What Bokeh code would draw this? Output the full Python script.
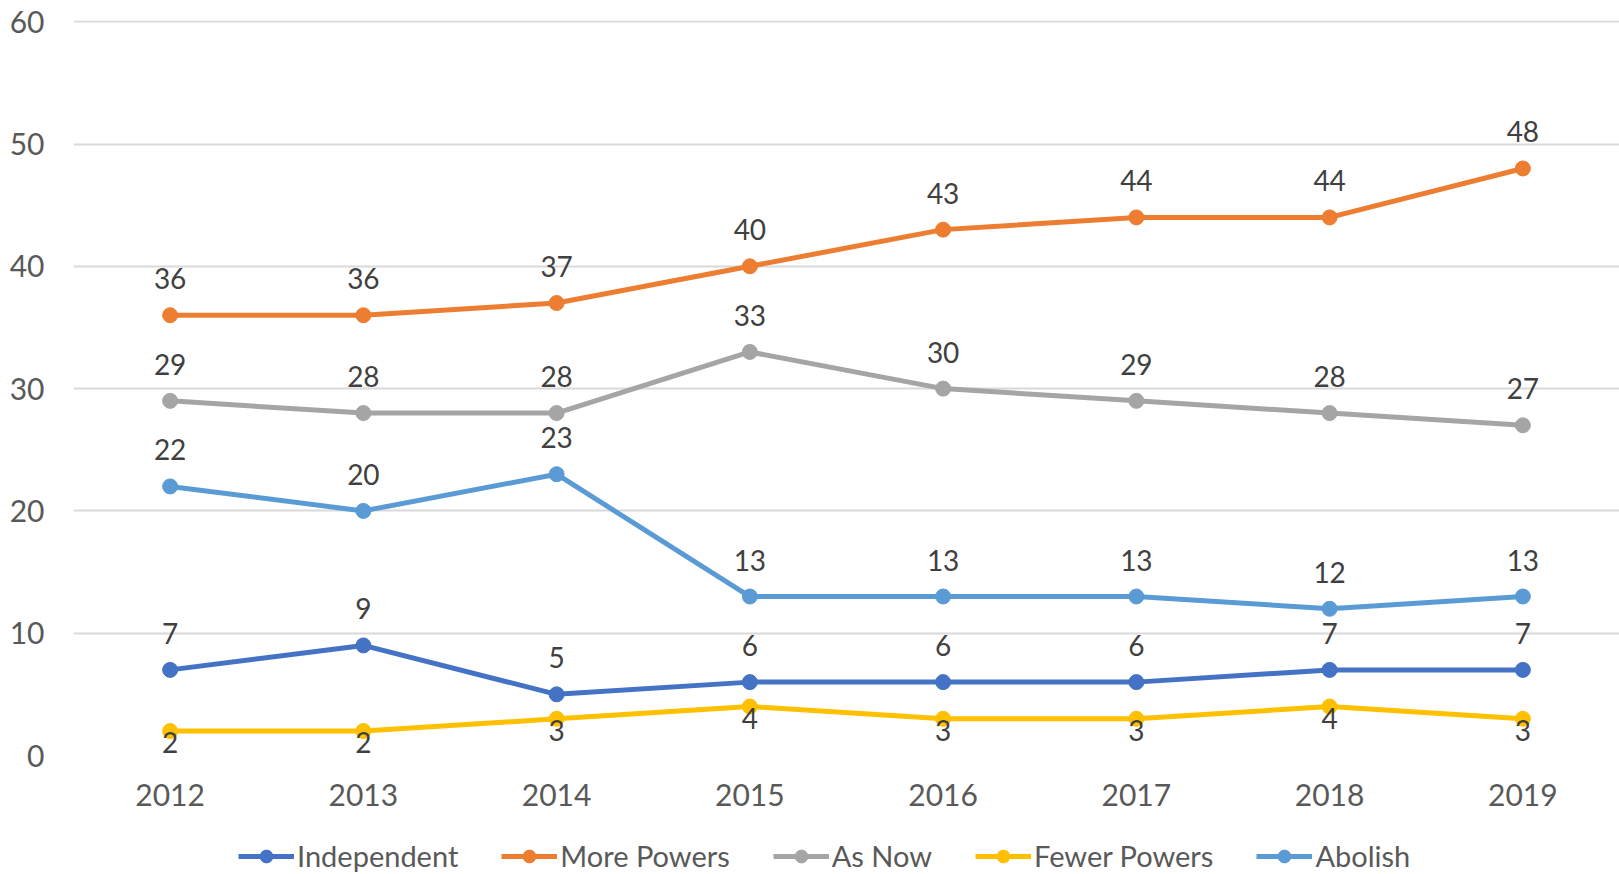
from bokeh.plotting import figure
from bokeh.layouts import column
from bokeh.models import Range1d, FixedTicker, ColumnDataSource, LabelSet, Legend, LegendItem
from bokeh.core.properties import value
from bokeh.embed import file_html
from bokeh.resources import INLINE

years = [2012, 2013, 2014, 2015, 2016, 2017, 2018, 2019]
independent = [7, 9, 5, 6, 6, 6, 7, 7]
more_powers = [36, 36, 37, 40, 43, 44, 44, 48]
as_now = [29, 28, 28, 33, 30, 29, 28, 27]
fewer_powers = [2, 2, 3, 4, 3, 3, 4, 3]
abolish = [22, 20, 23, 13, 13, 13, 12, 13]
y_ticks = [0, 10, 20, 30, 40, 50, 60]

series = [
    ("Independent", independent, "#4472C4", "above"),
    ("More Powers", more_powers, "#ED7D31", "above"),
    ("As Now", as_now, "#A5A5A5", "above"),
    ("Fewer Powers", fewer_powers, "#FFC000", "below"),
    ("Abolish", abolish, "#5B9BD5", "above"),
]

FONT = "Lato"
W = 1619
LEG_H = 44

p = figure(width=W, height=874 - LEG_H, output_backend="svg", toolbar_location=None,
           x_range=Range1d(2011.5, 2019.5), y_range=Range1d(0, 60.1),
           min_border_left=73, min_border_right=0, min_border_top=20,
           min_border_bottom=874 - LEG_H - 755)
p.outline_line_color = None
p.background_fill_color = "white"
p.border_fill_color = "white"

p.xgrid.grid_line_color = None
p.ygrid.grid_line_color = "#D9D9D9"
p.ygrid.grid_line_width = 2
p.ygrid.ticker = FixedTicker(ticks=y_ticks)

p.yaxis.ticker = FixedTicker(ticks=y_ticks)
p.yaxis.axis_line_color = None
p.yaxis.major_tick_line_color = None
p.yaxis.minor_tick_line_color = None
p.yaxis.major_label_text_font = FONT
p.yaxis.major_label_text_font_size = "30px"
p.yaxis.major_label_text_color = "#595959"
p.yaxis.major_label_standoff = 23

p.xaxis.ticker = FixedTicker(ticks=years)
p.xaxis.axis_line_color = None
p.xaxis.major_tick_line_color = None
p.xaxis.minor_tick_line_color = None
p.xaxis.major_label_text_font = FONT
p.xaxis.major_label_text_font_size = "30px"
p.xaxis.major_label_text_color = "#595959"
p.xaxis.major_label_standoff = 22

# legend strip
lg = figure(width=W, height=LEG_H, output_backend="svg", toolbar_location=None,
            x_range=Range1d(0, 1), y_range=Range1d(0, 1),
            min_border_left=0, min_border_right=0, min_border_top=0, min_border_bottom=0)
lg.axis.visible = False
lg.grid.visible = False
lg.outline_line_color = None
lg.border_fill_color = "white"

items = []
for name, vals, color, pos in series:
    src = ColumnDataSource(dict(x=years, y=vals, t=[str(v) for v in vals]))
    p.line("x", "y", source=src, line_color=color, line_width=5)
    p.scatter("x", "y", source=src, size=15, fill_color=color, line_color=color)
    labels = LabelSet(x="x", y="y", text="t", source=src,
                      text_font=value(FONT), text_font_size=value("28px"),
                      text_color=value("#404040"),
                      text_align=value("center"), text_baseline=value("alphabetic"),
                      y_offset=26 if pos == "above" else -22)
    p.add_layout(labels)
    # legend-only renderers, kept outside the strip's visible range
    dummy = ColumnDataSource(dict(x=[-5, -4], y=[-5, -5]))
    l1 = lg.line("x", "y", source=dummy, line_color=color, line_width=5)
    l2 = lg.scatter("x", "y", source=dummy, size=13, fill_color=color, line_color=color)
    items.append(LegendItem(label=name, renderers=[l1, l2]))

legend = Legend(items=items, orientation="horizontal", location=(165, 1))
legend.label_text_font = FONT
legend.label_text_font_size = "29px"
legend.label_text_color = "#595959"
legend.glyph_width = 56
legend.glyph_height = 32
legend.label_standoff = 3
legend.spacing = 43
legend.padding = 0
legend.margin = 0
legend.border_line_color = None
legend.background_fill_alpha = 0
lg.add_layout(legend)

layout = column(p, lg, spacing=0)
open("out.html", "w").write(file_html(layout, INLINE))
